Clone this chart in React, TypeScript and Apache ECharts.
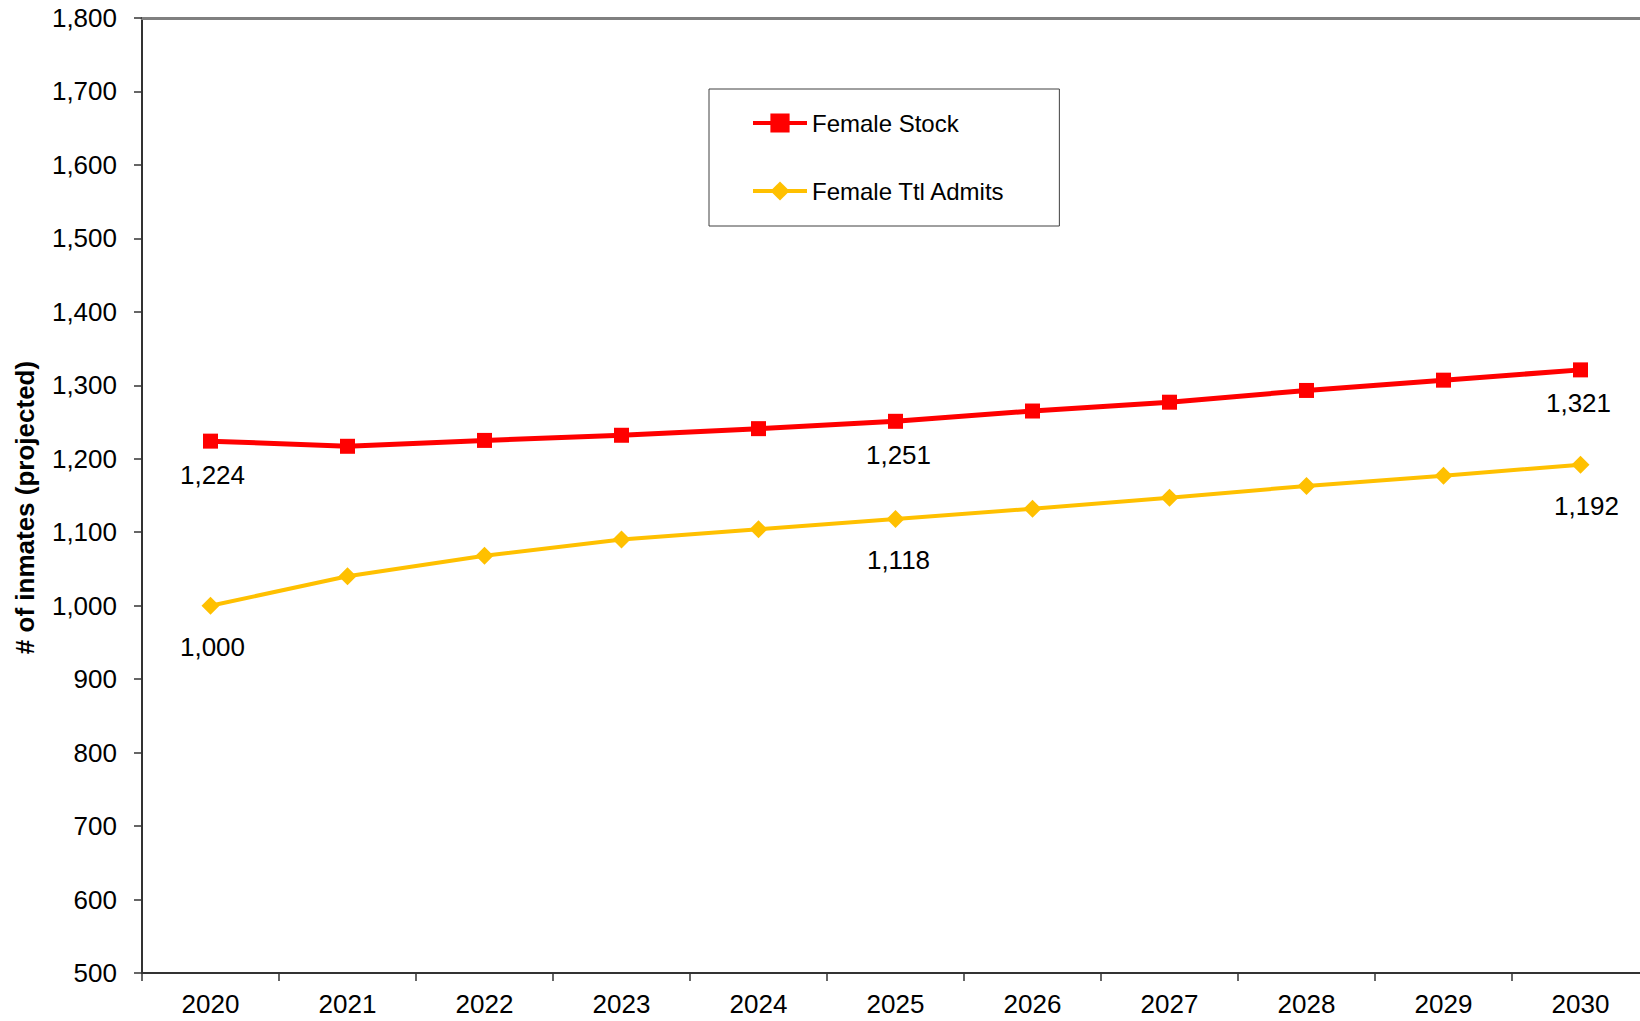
import React, { useEffect, useRef } from "react";
import * as echarts from "echarts";

const years = ["2020", "2021", "2022", "2023", "2024", "2025", "2026", "2027", "2028", "2029", "2030"];
const femaleStock = [1224, 1217, 1225, 1232, 1241, 1251, 1265, 1277, 1293, 1307, 1321];
const femaleAdmits = [1000, 1040, 1068, 1090, 1104, 1118, 1132, 1147, 1163, 1177, 1192];
const labelledIdx = [0, 5, 10];
const stockLabelShift = [2, 3, -2];
const admitsLabelShift = [2, 3, 6];

const FONT = "'Liberation Sans', Arial, sans-serif";
const fmt = (v: number) => v.toLocaleString("en-US");

function buildData(values: number[], shifts: number[]) {
  return values.map((v, i) => {
    const k = labelledIdx.indexOf(i);
    if (k < 0) return { value: v, label: { show: false } };
    return { value: v, label: { show: true, offset: [shifts[k], 0] } };
  });
}

export default function App() {
  const ref = useRef<HTMLDivElement>(null);
  useEffect(() => {
    if (!ref.current) return;
    const chart = echarts.init(ref.current, undefined, { renderer: "svg" });
    chart.setOption({
      animation: false,
      backgroundColor: "#ffffff",
      textStyle: { fontFamily: FONT },
      grid: { left: 142, top: 18, bottom: 48, right: 0, containLabel: false },
      legend: {
        orient: "vertical",
        left: 709,
        top: 89,
        padding: [22, 54, 23, 42],
        borderColor: "#404040",
        borderWidth: 1,
        itemWidth: 54,
        itemHeight: 24,
        itemGap: 44,
        lineStyle: { width: 4 },
        textStyle: { fontSize: 24, color: "#000", fontFamily: FONT, lineHeight: 24 },
        data: ["Female Stock", "Female Ttl Admits"],
      },
      xAxis: [
        {
          type: "category",
          data: years,
          boundaryGap: true,
          axisLine: { lineStyle: { color: "#333", width: 2 } },
          axisTick: { show: true, alignWithLabel: false, length: 8, lineStyle: { color: "#333", width: 1.5 } },
          axisLabel: { fontSize: 26, color: "#000", margin: 18, fontFamily: FONT },
        },
        {
          type: "category",
          data: years,
          position: "top",
          axisLine: { show: true, lineStyle: { color: "#808080", width: 3 } },
          axisTick: { show: false },
          axisLabel: { show: false },
        },
      ],
      yAxis: {
        type: "value",
        min: 500,
        max: 1800,
        interval: 100,
        name: "# of inmates (projected)",
        nameLocation: "middle",
        nameGap: 104,
        nameTextStyle: { fontSize: 26, fontWeight: "bold", color: "#000", fontFamily: FONT, padding: [0, 24, 0, 0] },
        splitLine: { show: false },
        axisLine: { show: true, lineStyle: { color: "#333", width: 2 } },
        axisTick: { show: true, length: 8, lineStyle: { color: "#333", width: 1.5 } },
        axisLabel: { fontSize: 26, color: "#000", margin: 25, fontFamily: FONT, formatter: (v: number) => fmt(v) },
      },
      series: [
        {
          name: "Female Stock",
          type: "line",
          data: buildData(femaleStock, stockLabelShift),
          symbol: "rect",
          symbolSize: 15,
          lineStyle: { color: "#FF0000", width: 5 },
          itemStyle: { color: "#FF0000" },
          label: {
            position: "bottom",
            distance: 13,
            fontSize: 26,
            color: "#000",
            fontFamily: FONT,
            formatter: (p: any) => fmt(p.value),
          },
        },
        {
          name: "Female Ttl Admits",
          type: "line",
          data: buildData(femaleAdmits, admitsLabelShift),
          symbol: "diamond",
          symbolSize: 18,
          lineStyle: { color: "#FFC000", width: 4 },
          itemStyle: { color: "#FFC000" },
          label: {
            position: "bottom",
            distance: 19,
            fontSize: 26,
            color: "#000",
            fontFamily: FONT,
            formatter: (p: any) => fmt(p.value),
          },
        },
      ],
    });
    return () => chart.dispose();
  }, []);
  return (
    <div style={{ position: "fixed", left: 0, top: 0, width: 1640, height: 1021, overflow: "hidden", background: "#fff" }}>
      <div ref={ref} style={{ width: 1649, height: 1021 }} />
    </div>
  );
}
